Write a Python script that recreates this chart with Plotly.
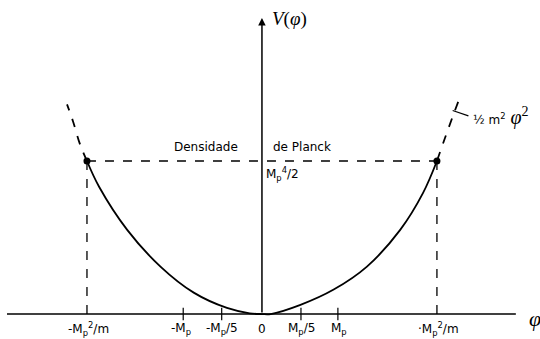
import plotly.graph_objects as go

# Potential curve (phi in units of Mp^2/m, V in units of Mp^4/2)
PHI_CURVE = [-1.0, -0.93, -0.77, -0.58, -0.39, -0.2, -0.07, 0.0, 0.05, 0.22, 0.41, 0.6, 0.79, 0.92, 1.0]
V_CURVE = [1.0, 0.83, 0.55, 0.31, 0.14, 0.04, 0.005, 0.0, 0.0, 0.06, 0.16, 0.31, 0.55, 0.79, 1.0]

# Dashed continuation beyond the Planck density
PHI_EXT_LEFT = [-1.0, -1.04, -1.08, -1.114]
V_EXT_LEFT = [1.0, 1.11, 1.26, 1.37]
PHI_EXT_RIGHT = [1.0, 1.046, 1.09, 1.126]
V_EXT_RIGHT = [1.0, 1.15, 1.29, 1.40]

# Points where V reaches the Planck density
PHI_PLANCK = [-1.0, 1.0]
V_PLANCK = [1.0, 1.0]

# Ticks on the phi axis
TICK_POS = [-0.45, -0.23, 0.223, 0.434]
LABEL_POS = [-0.99, -0.46, -0.23, 0.0, 0.225, 0.44, 1.01]
LABEL_TEXT = [
    "-M<sub>p</sub><sup>2</sup>/m",
    "-M<sub>p</sub>",
    "-M<sub>p</sub>/5",
    "0",
    "M<sub>p</sub>/5",
    "M<sub>p</sub>",
    "·M<sub>p</sub><sup>2</sup>/m",
]

SANS = "DejaVu Sans"
SERIF = "Liberation Serif"

fig = go.Figure()

# phi axis
fig.add_shape(type="line", x0=-1.457, x1=1.451, y0=0, y1=0,
              line=dict(color="black", width=1.5))

# dashed guide lines at the Planck density
fig.add_trace(go.Scatter(x=PHI_PLANCK, y=V_PLANCK, mode="lines",
                         line=dict(color="black", width=1.3, dash="dash")))
for p, v in zip(PHI_PLANCK, V_PLANCK):
    fig.add_trace(go.Scatter(x=[p, p], y=[0, v], mode="lines",
                             line=dict(color="black", width=1.3, dash="dash")))

# the potential
fig.add_trace(go.Scatter(x=PHI_CURVE, y=V_CURVE, mode="lines", line_shape="spline",
                         line=dict(color="black", width=1.8)))
for xs, ys in [(PHI_EXT_LEFT, V_EXT_LEFT), (PHI_EXT_RIGHT, V_EXT_RIGHT)]:
    fig.add_trace(go.Scatter(x=xs, y=ys, mode="lines", line_shape="spline",
                             line=dict(color="black", width=1.8, dash="dash")))

fig.add_trace(go.Scatter(x=PHI_PLANCK, y=V_PLANCK, mode="markers",
                         marker=dict(color="black", size=7)))

# tick marks
fig.add_trace(go.Scatter(x=TICK_POS, y=[0] * len(TICK_POS), mode="markers",
                         marker=dict(symbol="line-ns", size=9,
                                     line=dict(color="black", width=1.2))))

# V axis with arrow
fig.add_annotation(x=0, y=1.935, ax=0, ay=0, xref="x", yref="y", axref="x", ayref="y",
                   showarrow=True, arrowhead=2, arrowsize=1, arrowwidth=1.5,
                   arrowcolor="black", text="")

for pos, txt in zip(LABEL_POS, LABEL_TEXT):
    fig.add_annotation(x=pos, y=-0.098, text=txt, showarrow=False,
                       font=dict(family=SANS, size=12, color="black"))

fig.add_annotation(x=0.046, y=1.928, xanchor="left", text="<i>V</i>(<i>φ</i>)",
                   showarrow=False, font=dict(family=SERIF, size=19, color="black"))
fig.add_annotation(x=1.56, y=-0.026, text="<i>φ</i>", showarrow=False,
                   font=dict(family=SERIF, size=22, color="black"))

fig.add_annotation(x=-0.32, y=1.09, text="Densidade", showarrow=False,
                   font=dict(family=SANS, size=12, color="black"))
fig.add_annotation(x=0.23, y=1.09, text="de Planck", showarrow=False,
                   font=dict(family=SANS, size=12, color="black"))
fig.add_annotation(x=0.012, y=0.915, xanchor="left",
                   text="M<sub>p</sub><sup>4</sup>/2", showarrow=False,
                   font=dict(family=SANS, size=12, color="black"))

fig.add_annotation(x=1.195, y=1.29, xanchor="left",
                   text="<span style='font-family:DejaVu Sans;font-size:12px'>½ m<sup>2</sup></span> <i>φ</i><sup>2</sup>",
                   showarrow=False, font=dict(family=SERIF, size=20, color="black"))
fig.add_shape(type="line", x0=1.09, x1=1.18, y0=1.33, y1=1.295,
              line=dict(color="black", width=1.3))

fig.update_xaxes(range=[-1.497, 1.589], visible=False)
fig.update_yaxes(range=[-0.163, 2.052], visible=False)
fig.update_layout(
    width=540, height=339,
    margin=dict(l=0, r=0, t=0, b=0),
    plot_bgcolor="white", paper_bgcolor="white",
    showlegend=False,
)

fig.write_html("out.html", config={"displayModeBar": False},
               post_script="document.body.style.margin='0';")
